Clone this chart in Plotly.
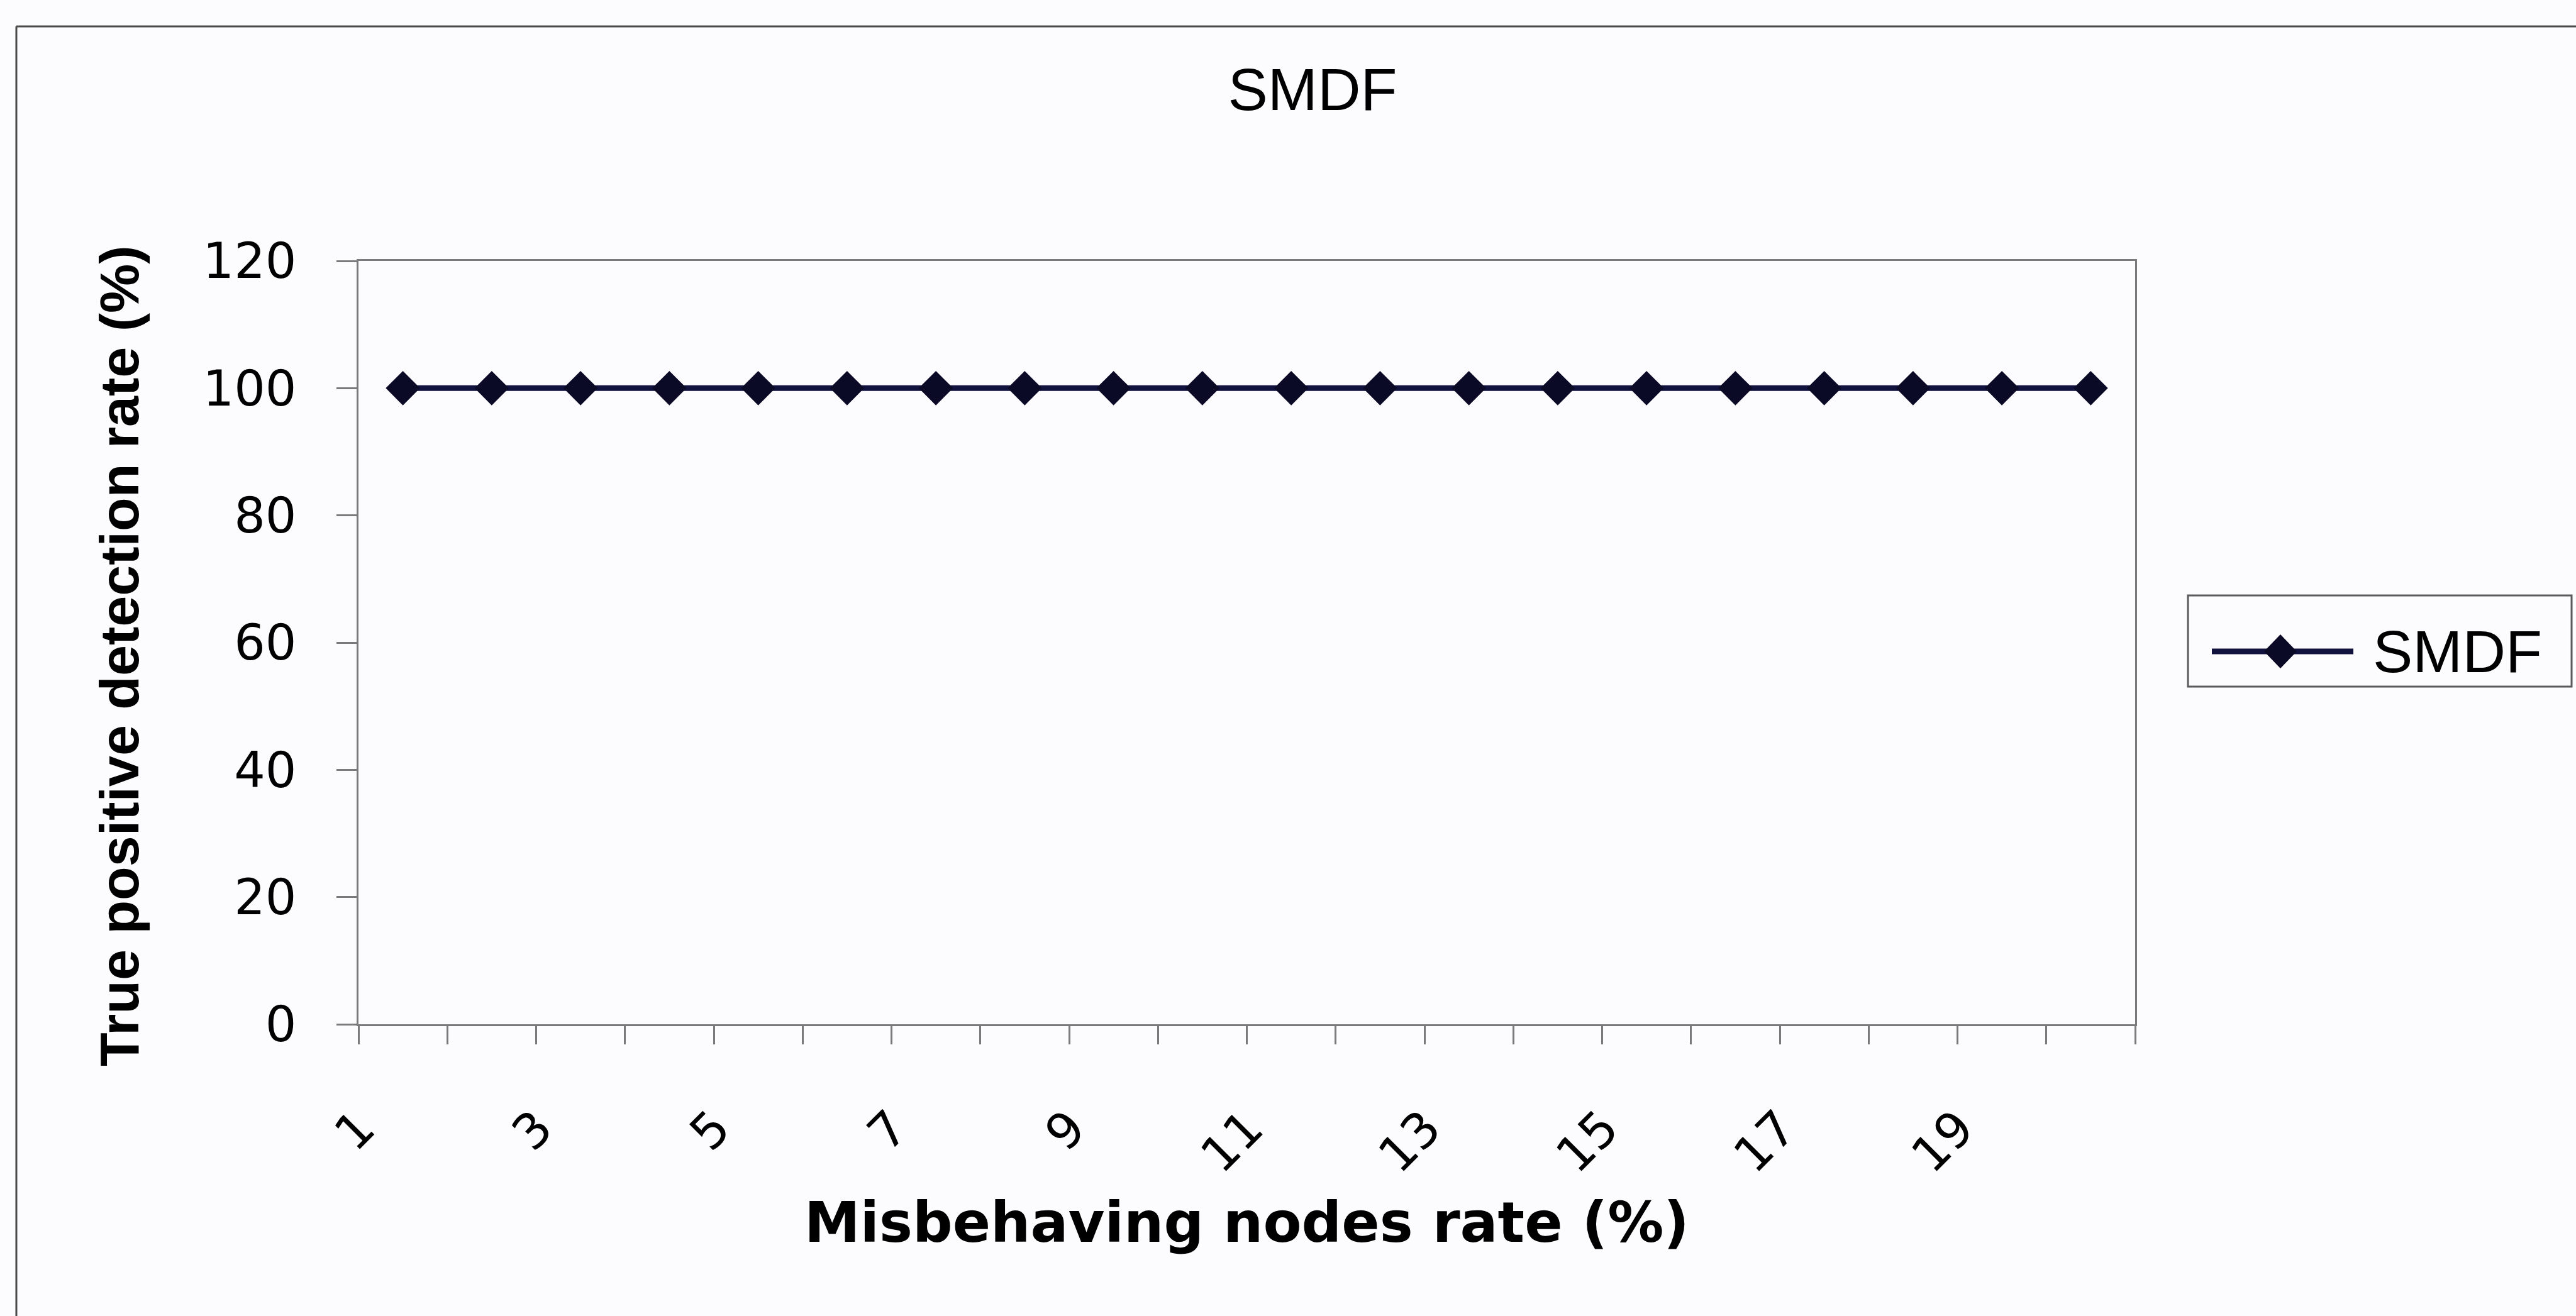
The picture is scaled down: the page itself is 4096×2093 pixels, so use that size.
import plotly.graph_objects as go

# ---- data ----
categories = list(range(1, 21))
smdf_values = [100] * 20
x_tick_labels = ["1", "3", "5", "7", "9", "11", "13", "15", "17", "19"]
y_tick_values = [0, 20, 40, 60, 80, 100, 120]

title_text = "SMDF"
x_title = "Misbehaving nodes rate (%)"
y_title = "True positive detection rate (%)"
series_name = "SMDF"

# ---- layout geometry (output pixels) ----
W, H = 4096, 2093
PL, PR, PT, PB = 570, 3395, 415, 1629
pw, ph = PR - PL, PB - PT


def px(x):
    return (x - PL) / pw


def py(y):
    return (PB - y) / ph


LABEL_SHIFT = -0.48
tick_positions = [int(t) + LABEL_SHIFT for t in x_tick_labels]

axis_color = "#7a7a7a"
line_color = "#12123f"
marker_color = "#0a0a26"
bg = "#fcfbfd"

fig = go.Figure()
fig.add_trace(go.Scatter(
    x=categories, y=smdf_values, mode="lines+markers", name=series_name,
    line=dict(color=line_color, width=9),
    marker=dict(symbol="diamond", size=42, color=marker_color, line=dict(width=0)),
    showlegend=False, cliponaxis=False,
))

fig.update_layout(
    width=W, height=H,
    margin=dict(l=PL, r=W - PR, t=PT, b=H - PB, autoexpand=False),
    paper_bgcolor=bg, plot_bgcolor=bg,
    title=dict(text=title_text, x=2087 / W, xanchor="center", xref="container",
               y=1 - 142 / H, yanchor="middle", yref="container",
               font=dict(family="Liberation Sans", size=95, color="#000")),
    font=dict(family="DejaVu Sans", color="#000"),
)

fig.update_xaxes(
    range=[0.5, 20.5], tickmode="array", tickvals=tick_positions, ticktext=x_tick_labels,
    tickangle=-45, ticks="", tickfont=dict(family="DejaVu Sans", size=78, color="#000"),
    ticklabelstandoff=85,
    showline=True, linecolor=axis_color, linewidth=3, mirror=True,
    showgrid=False, zeroline=False,
    minor=dict(tickmode="linear", tick0=0.5, dtick=1, ticks="outside", ticklen=29,
               tickwidth=3, tickcolor=axis_color, showgrid=False),
)
fig.update_yaxes(
    range=[0, 120], tickmode="array", tickvals=y_tick_values,
    ticks="outside", ticklen=32, tickwidth=3, tickcolor=axis_color,
    tickfont=dict(family="DejaVu Sans", size=78, color="#000"),
    ticklabelstandoff=48,
    showline=True, linecolor=axis_color, linewidth=3, mirror=True,
    showgrid=False, zeroline=False,
)

annotations = [
    dict(text=f"<b>{x_title}</b>", x=px(1982), y=py(1944), xref="paper", yref="paper",
         xanchor="center", yanchor="middle", showarrow=False,
         font=dict(family="DejaVu Sans", size=89, color="#000")),
    dict(text=f"<b>{y_title}</b>", x=px(189), y=py(1043), xref="paper", yref="paper",
         xanchor="center", yanchor="middle", showarrow=False, textangle=-90,
         font=dict(family="Liberation Sans", size=88, color="#000")),
    dict(text=series_name, x=px(3771), y=py(1036), xref="paper", yref="paper",
         xanchor="left", yanchor="middle", showarrow=False,
         font=dict(family="Liberation Sans", size=95, color="#000")),
]

shapes = [
    # outer chart frame (left and top edges visible)
    dict(type="line", xref="paper", yref="paper", x0=px(26), x1=px(26), y0=py(H + 20), y1=py(42),
         line=dict(color="#4a4a4a", width=3)),
    dict(type="line", xref="paper", yref="paper", x0=px(26), x1=px(W + 20), y0=py(42), y1=py(42),
         line=dict(color="#4a4a4a", width=3)),
    # legend box
    dict(type="rect", xref="paper", yref="paper", x0=px(3479), x1=px(4089), y0=py(1092), y1=py(947),
         line=dict(color="#5a5a5a", width=3), fillcolor="rgba(0,0,0,0)"),
    # legend line sample
    dict(type="line", xref="paper", yref="paper", x0=px(3517), x1=px(3742), y0=py(1036), y1=py(1036),
         line=dict(color=line_color, width=9)),
    # legend diamond
    dict(type="path", xref="paper", yref="paper", xsizemode="pixel", ysizemode="pixel",
         xanchor=px(3626), yanchor=py(1036), path="M-26,0 L0,27 L26,0 L0,-27 Z",
         fillcolor=marker_color, line=dict(width=0)),
]

fig.update_layout(annotations=annotations, shapes=shapes)
fig.write_html("out.html")
